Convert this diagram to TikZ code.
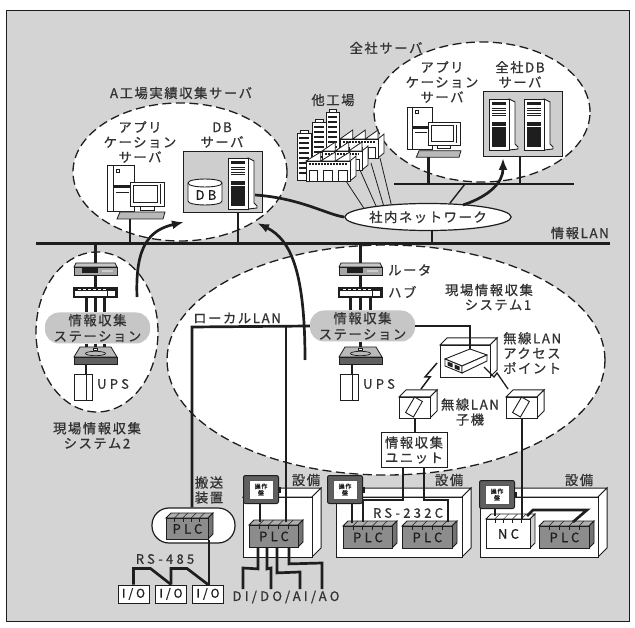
\documentclass[tikz,border=0pt]{standalone}
\usepackage{fontspec}
\setmainfont{Noto Sans CJK JP}[LetterSpace=12, FakeBold=0.7]
\newfontfamily\widefont{Noto Sans CJK JP}[LetterSpace=25, FakeBold=0.7]
\usetikzlibrary{arrows.meta,calc,shapes.geometric}

\definecolor{panelgray}{RGB}{212,212,212}
\definecolor{inkcol}{RGB}{30,30,30}
\definecolor{txtcol}{RGB}{50,50,50}
\definecolor{pillgray}{RGB}{198,198,198}
\definecolor{plcgray}{RGB}{140,140,140}
\definecolor{boxgray}{RGB}{206,206,206}
\definecolor{panelframe}{RGB}{95,95,95}

\tikzset{
  lbl/.style={text=txtcol, inner sep=0pt, align=center, font=\fontsize{13.3}{15}\selectfont},
  latinlbl/.style={text=txtcol, inner sep=0pt, align=center, font=\widefont\fontsize{13}{15}\selectfont},
  zone/.style={ellipse, draw=inkcol, fill=white, line width=1.3pt, dash pattern=on 9pt off 4.5pt, inner sep=0pt},
  wire/.style={draw=inkcol, line width=2.7pt},
  medwire/.style={draw=inkcol, line width=1.4pt},
  thinwire/.style={draw=inkcol, line width=0.8pt},
  lan/.style={draw=inkcol, line width=3pt},
  flow/.style={draw=inkcol, line width=2.7pt, -{Latex[length=12pt,width=9pt]}},
  pill/.style={fill=pillgray, rounded corners=14pt, minimum width=105, minimum height=31, inner sep=0pt, text=txtcol, align=center, font=\fontsize{13.3}{16}\selectfont},
  iobox/.style={draw=inkcol, line width=1pt, fill=white, minimum width=31, minimum height=18, inner sep=0pt, text=inkcol, font=\widefont\fontsize{12}{12}\selectfont},
  % desktop computer: tower, monitor, keyboard
  pics/pcset/.style={code={
    \draw[inkcol, line width=0.9pt, fill=white] (0,0) rectangle (27,46);
    \draw[inkcol, line width=0.6pt] (6,0) -- (6,46);
    \fill[inkcol] (6,20) rectangle (23,23.5);
    \draw[inkcol, line width=0.5pt] (9,4) rectangle (12,7);
    \draw[inkcol, line width=0.5pt] (9,27) -- (22,27);
    \draw[inkcol, line width=0.9pt, fill=white] (23,17) rectangle (57,41);
    \draw[inkcol, line width=0.7pt] (26,20) rectangle (50,37);
    \draw[inkcol, line width=0.6pt] (53,19) -- (53,39);
    \draw[inkcol, line width=0.8pt, fill=white] (33,41) rectangle (47,45);
    \draw[inkcol, line width=0.8pt, fill=gray!55] (13,47) -- (58,47) -- (56,54) -- (10,54) -- cycle;
    \coordinate (-base) at (23,54);
  }},
  % rack server tower
  pics/servtower/.style={code={
    \draw[inkcol, line width=0.9pt, fill=white] (20,0) -- (26,3) -- (26,45) -- (29,48) -- (29,50) -- (20,51) -- cycle;
    \draw[inkcol, line width=0.9pt, fill=white] (0,0) rectangle (20,51);
    \fill[inkcol] (3,3) rectangle (17,6);
    \foreach \ly in {9,11.5,14,16.5} \draw[inkcol, line width=0.5pt] (3,\ly) -- (17,\ly);
    \fill[inkcol] (3,23) rectangle (17,48);
    \draw[white, line width=0.6pt] (3,27) -- (17,27);
    \coordinate (-base) at (10,51);
    \coordinate (-east) at (27,37);
  }},
  pics/router/.style={code={
    \draw[inkcol, line width=0.7pt, fill=gray!45] (2,0) -- (41,0) -- (43,4) -- (0,4) -- cycle;
    \draw[inkcol, line width=0.7pt, fill=gray!70] (0,4) rectangle (43,12);
    \fill[inkcol] (8,5.5) rectangle (24,10.5);
    \fill[gray!40] (28,7) rectangle (39,9);
    \coordinate (-n) at (21.5,0);
    \coordinate (-s) at (21.5,12);
  }},
  pics/hub/.style={code={
    \draw[inkcol, line width=1.2pt, fill=white] (0,0) rectangle (43,9);
    \fill[inkcol] (0,0) rectangle (43,3.2);
    \foreach \i in {4,9,...,29} \fill[white] (\i,1) rectangle (\i+3,2.2);
    \draw[inkcol, line width=0.8pt, fill=white] (33,2.5) rectangle (41,8);
    \coordinate (-n) at (21.5,0);
    \coordinate (-s) at (21.5,9);
  }},
  pics/discbase/.style={code={
    \draw[inkcol, line width=0.8pt, fill=gray!55] (6,0) -- (37,0) -- (43,10) -- (0,10) -- cycle;
    \draw[inkcol, line width=0.8pt, fill=gray!75!black] (0,10) rectangle (43,17);
    \draw[inkcol, line width=0.7pt] (21.5,6.5) ellipse [x radius=10, y radius=2.2];
    \draw[inkcol, line width=0.6pt, fill=white] (19.5,1) rectangle (23.5,3.5);
    \coordinate (-n) at (21.5,0);
    \coordinate (-s) at (21.5,17);
  }},
  pics/upsbox/.style={code={
    \draw[inkcol, line width=0.9pt, fill=white] (0,0) rectangle (18,26);
    \draw[inkcol, line width=0.9pt] (12,0) -- (12,26);
    \coordinate (-n) at (12,0);
  }},
}

% 3D box: name, x1, y1, x2, y2 (front face), depth
\newcommand{\cubebox}[6]{%
  \draw[inkcol, line width=1pt, fill=white] (#2,#3) -- ++(#6,-#6) -- (#4+#6,#3-#6) -- (#4,#3) -- cycle;
  \draw[inkcol, line width=1pt, fill=white] (#4,#3) -- (#4+#6,#3-#6) -- (#4+#6,#5-#6) -- (#4,#5) -- cycle;
  \node[draw=inkcol, line width=1pt, fill=white, inner sep=0pt, minimum width=#4-#2, minimum height=#5-#3, anchor=north west] (#1) at (#2,#3) {};
}
% controller module: name, x, y, width, height, label, colour
\newcommand{\plcbox}[7]{%
  \draw[inkcol, line width=0.9pt, fill=#7!70!white] (#2,#3) -- ++(5,-5) -- ++(#4,0) -- ++(-5,5) -- cycle;
  \draw[inkcol, line width=0.9pt, fill=#7!82!black] (#2+#4,#3) -- ++(5,-5) -- ++(0,#5) -- ++(-5,5) -- cycle;
  \node[draw=inkcol, line width=0.9pt, fill=#7, inner sep=0pt, minimum width=#4, minimum height=#5, anchor=north west, text=inkcol, font=\widefont\fontsize{13}{13}\selectfont] (#1) at (#2,#3) {#6};
  \foreach \k in {1,...,4}{
    \draw[inkcol, line width=0.5pt] ($(#1.north west)+(\k*#4/5,0)$) -- ++(5,-5);
    \draw[inkcol, line width=0.5pt] ($(#1.north west)+(\k*#4/5,0)$) -- ++(0,4);
  }%
}
% operator panel: name, x, y
\newcommand{\oppanel}[3]{%
  \node[draw=inkcol, line width=1pt, fill=panelframe, rounded corners=2pt, minimum width=35, minimum height=28, inner sep=0pt, anchor=north west] (#1) at (#2,#3) {};
  \fill[inkcol] ($(#1.east)+(0,-3)$) rectangle ($(#1.east)+(2,3)$);
  \node[draw=gray!70!black, line width=0.8pt, fill=white, minimum width=24, minimum height=19, inner sep=0pt, align=center, text=inkcol, font=\fontsize{6}{6.5}\selectfont] (#1-in) at (#1.center) {操作\\盤};
}

\begin{document}
\begin{tikzpicture}[x=1pt,y=-1pt]
\useasboundingbox (0,0) rectangle (635,628);
\fill[white] (0,0) rectangle (635,628);
\draw[inkcol, line width=0.8pt, fill=panelgray] (6,10) rectangle (629,621);

%% dashed zones
\node[zone, minimum width=214, minimum height=138] (zoneA) at (180,172) {};
\node[zone, minimum width=216, minimum height=140] (zoneHQ) at (482,112) {};
\node[zone, minimum width=122, minimum height=160] (zoneS2) at (97,332) {};
\node[zone, minimum width=438, minimum height=230] (zoneS1) at (386,360) {};

%% zone titles
\node[lbl] (tA) at (181,93) {A工場実績収集サーバ};
\node[lbl] (tHQ) at (386,48) {全社サーバ};
\node[lbl] (tS2) at (97,435.5) {現場情報収集\\システム2};
\node[lbl] (tS1a) at (489,290) {現場情報収集};
\node[lbl] (tS1b) at (498,305) {システム1};
\node[lbl] (tOther) at (333,100) {他工場};
\node[lbl, anchor=east] (tLAN) at (609,233) {情報LAN};

%% information LAN backbone
\coordinate (lanL) at (36,244);
\coordinate (lanR) at (610,244);
\draw[lan] (lanL) -- (lanR);

%% plant A servers
\pic (pcA) at (107,165) {pcset};
\node[draw=inkcol, line width=1pt, fill=boxgray, minimum width=79, minimum height=61, inner sep=0pt] (dbboxA) at (222.5,182.5) {};
\draw[inkcol, line width=0.9pt, fill=white] (188,183) -- (188,201) .. controls (188,206.3) and (222,206.3) .. (222,201) -- (222,183) .. controls (222,177.7) and (188,177.7) .. (188,183) -- cycle;
\draw[inkcol, line width=0.9pt] (188,183) .. controls (188,188.3) and (222,188.3) .. (222,183);
\node[text=inkcol, inner sep=0pt, font=\widefont\fontsize{13}{13}\selectfont] (dbA) at (206,195) {DB};
\pic (srvA) at (228,158) {servtower};
\node[lbl] (tAppA) at (140,142) {アプリ\\ケーション\\サーバ};
\node[lbl] (tDbA) at (222,135) {DB\\サーバ};
\draw[wire] (pcA-base) -- (pcA-base |- lanL);
\draw[wire] (srvA-base |- dbboxA.south) -- (srvA-base |- lanL);

%% head office servers
\pic[scale=0.93] (pcHQ) at (407,107) {pcset};
\node[draw=inkcol, line width=1pt, fill=boxgray, minimum width=79, minimum height=65, inner sep=0pt] (dbboxHQ) at (522.5,124.5) {};
\pic (srvHQa) at (489,99) {servtower};
\pic (srvHQb) at (524,99) {servtower};
\node[lbl] (tAppHQ) at (442,82) {アプリ\\ケーション\\サーバ};
\node[lbl] (tDbHQ) at (520,74.5) {全社DB\\サーバ};
\coordinate (barL) at (394,184);
\coordinate (barR) at (574,184);
\coordinate (hqDrop) at (520,157);
\draw[wire] (barL) -- (barR);
\draw[wire] (pcHQ-base) -- (pcHQ-base |- barL);
\draw[wire] (hqDrop) -- (hqDrop |- barL);

%% other plants
\foreach \bx/\by/\bw/\bb in {297/133/14/180, 312/122/14/172, 326/112/13/165}{
  \draw[inkcol, line width=0.8pt, fill=white] (\bx,\by) rectangle (\bx+\bw,\bb);
  \draw[inkcol, line width=0.8pt, fill=white] (\bx+3,\by) rectangle (\bx+\bw-3,\by-3);
  \begin{scope}
    \clip (\bx,\by+3) rectangle (\bx+\bw,\bb-3);
    \foreach \r in {0,...,12}
      \fill[inkcol] (\bx+2,\by+4+5*\r) rectangle (\bx+\bw-2,\by+5.8+5*\r);
  \end{scope}
}
\foreach \fx/\fr/\fw/\fb in {340/130/38/158, 322/142/40/170, 306/152/44/181}{
  \draw[inkcol, line width=0.8pt, fill=white] (\fx+\fw,\fr+9) -- ++(6,-5) -- (\fx+\fw+6,\fb-5) -- (\fx+\fw,\fb) -- cycle;
  \draw[inkcol, line width=0.8pt, fill=white] (\fx,\fr+9) rectangle (\fx+\fw,\fb);
  \foreach \t in {0,1,2}{
    \draw[inkcol, line width=0.8pt, fill=white] (\fx+\t*\fw/3,\fr+9) -- (\fx+\t*\fw/3+\fw/3,\fr) -- (\fx+\t*\fw/3+\fw/3,\fr+9) -- cycle;
    \draw[inkcol, line width=0.7pt] (\fx+\t*\fw/3+3,\fb) -- (\fx+\t*\fw/3+3,\fb-11) -- (\fx+\t*\fw/3+\fw/3-3,\fb-11) -- (\fx+\t*\fw/3+\fw/3-3,\fb);
  }
  \draw[inkcol, line width=1.2pt, dash pattern=on 2pt off 1pt] (\fx+3,\fr+12) -- (\fx+\fw-3,\fr+12);
}

%% company network
\node[ellipse, draw=inkcol, line width=1.2pt, fill=white, minimum width=150, minimum height=27, lbl] (net) at (428,217) {社内ネットワーク};
\coordinate (netS) at (432,230.5);
\coordinate (netNE) at (463,205);
\coordinate (barTap) at (465,184);
\draw[wire] (netS) -- (netS |- lanL);
\draw[medwire] (net.32) -- (barTap);
\coordinate (fA) at (346,181);
\coordinate (fB) at (360,170);
\coordinate (fC) at (371,163);
\coordinate (fD) at (380,158);
\draw[thinwire] (fA) -- (net.172);
\draw[thinwire] (fB) -- (net.168);
\draw[thinwire] (fC) -- (net.165);
\draw[thinwire] (fD) -- (net.161);
\draw[wire] (srvA-east) .. controls (300,198) and (328,215) .. (net.west);

%% field system 2
\pic (rt2) at (74,263) {router};
\pic (hub2) at (74,288) {hub};
\node[pill] (st2) at (97.5,328) {情報収集\\ステーション};
\pic (dk2) at (74,347) {discbase};
\pic (ups2) at (74,374) {upsbox};
\node[latinlbl, anchor=west] (tUps2) at (97,384) {UPS};
\draw[wire] (rt2-n |- lanL) -- (rt2-n);
\draw[wire] (rt2-s) -- (hub2-n);
\foreach \dx in {-9,0,9}{
  \draw[wire] ($(hub2-s)+(\dx,0)$) -- ($(hub2-s |- st2.north)+(\dx,0)$);
  \draw[wire] ($(dk2-n |- st2.south)+(\dx,0)$) -- ($(dk2-n)+(\dx,0)$);
}
\draw[wire] (dk2-s -| ups2-n) -- (ups2-n);

%% field system 1
\pic (rt1) at (339,263) {router};
\pic (hub1) at (339,288) {hub};
\node[pill] (st1) at (362.5,326) {情報収集\\ステーション};
\pic (dk1) at (339,347) {discbase};
\pic (ups1) at (340,374) {upsbox};
\node[latinlbl, anchor=west] (tUps1) at (363,384) {UPS};
\node[lbl, anchor=west] (tRt) at (388,270) {ルータ};
\node[lbl, anchor=west] (tHub) at (388,292) {ハブ};
\draw[wire] (rt1-n |- lanL) -- (rt1-n);
\draw[wire] (rt1-s) -- (hub1-n);
\foreach \dx in {-10,0,10}{
  \draw[wire] ($(hub1-s)+(\dx,0)$) -- ($(hub1-s |- st1.north)+(\dx,0)$);
}
\draw[wire] (dk1-n |- st1.south) -- (dk1-n);
\draw[wire] (dk1-s -| ups1-n) -- (ups1-n);

%% wireless access point and clients
\cubebox{ap}{440}{345}{490}{377}{7}
\coordinate (apIn) at (470,352);
\draw[wire] (st1.east) -- (st1.east -| apIn) -- (apIn);
\draw[inkcol, line width=0.9pt, fill=white] (445,359) -- (470,349) -- (487,355) -- (462,366) -- cycle;
\draw[inkcol, line width=0.9pt, fill=white] (445,359) -- (462,366) -- (462,373) -- (445,366) -- cycle;
\draw[inkcol, line width=0.9pt, fill=white] (462,366) -- (487,355) -- (487,361) -- (462,373) -- cycle;
\fill[inkcol] (447.5,361.5) -- (452.5,363.5) -- (452.5,367.5) -- (447.5,365.5) -- cycle;
\fill[inkcol] (454.5,364.5) -- (459.5,366.5) -- (459.5,370.5) -- (454.5,368.5) -- cycle;
\node[lbl, align=left, anchor=west] (tAp) at (503,353) {無線LAN\\アクセス\\ポイント};

\cubebox{cl1}{399}{397}{430}{418}{7}
\cubebox{cl2}{506}{397}{537}{418}{7}
\draw[inkcol, line width=0.9pt, fill=white] (414.6,397) -- (422.4,401.5) -- (413.4,417) -- (405.6,412.5) -- cycle;
\draw[inkcol, line width=0.9pt, fill=white] (521.6,397) -- (529.4,401.5) -- (520.4,417) -- (512.6,412.5) -- cycle;
\coordinate (boltL1) at (421,389);
\coordinate (boltL2) at (437,363);
\coordinate (boltR1) at (484,367);
\coordinate (boltR2) at (508,389);
\draw[inkcol, line width=1.5pt, line join=miter] (boltL1) -- (430,377) -- (425,377) -- (boltL2);
\draw[inkcol, line width=1.3pt, line join=miter] (boltR1) -- (494,377) -- (497,373) -- (boltR2);
\node[lbl] (tCl) at (470,412) {無線LAN\\子機};

\node[draw=inkcol, line width=1pt, fill=white, minimum width=66, minimum height=34, lbl] (unit) at (414,450) {情報収集\\ユニット};
\draw[wire] (cl1.south) -- (cl1.south |- unit.north);

%% carrier equipment
\node[draw=inkcol, line width=1.2pt, fill=white, rounded corners=17pt, minimum width=83, minimum height=35, inner sep=0pt] (carrier) at (193.5,525.5) {};
\plcbox{plcCar}{166}{518}{42}{21}{PLC}{plcgray}
\node[lbl] (tCar) at (209,490) {搬送\\装置};
\node[iobox] (io1) at (133.5,594) {I/O};
\node[iobox] (io2) at (171,594) {I/O};
\node[iobox] (io3) at (208,594) {I/O};
\draw[wire] (plcCar.south east) -- (plcCar.south east |- io3.north);
\draw[wire] (io1.north) -- ++(0,-16) -- ++(17,0) -- (io2.north);
\draw[wire] (io2.north) -- ++(0,-16) -- ++(16,0) -- (io3.north);
\node[latinlbl] (tRs485) at (165,559) {RS-485};

%% equipment cabinets
\cubebox{eqA}{243}{497}{312}{557}{9}
\cubebox{eqB}{336}{497}{462}{557}{9}
\cubebox{eqC}{480}{497}{598}{557}{9}
\node[lbl] (tEqA) at (306,480) {設備};
\node[lbl] (tEqB) at (449,480) {設備};
\node[lbl] (tEqC) at (579,480) {設備};
\oppanel{opA}{243}{475}
\oppanel{opB}{327}{475}
\oppanel{opC}{479}{480}

\plcbox{plcA}{249}{525}{49}{22}{PLC}{plcgray}
\plcbox{plcB1}{343}{526}{49}{22}{PLC}{plcgray}
\plcbox{plcB2}{402}{526}{50}{22}{PLC}{plcgray}
\plcbox{nc}{486}{519}{44}{29}{NC}{white}
\plcbox{plcC}{539}{526}{50}{22}{PLC}{plcgray}

\draw[medwire] (opA.south -| 260,0) -- (260,522);
\draw[medwire] (opB.south -| 352,0) -- (352,523);
\draw[medwire] (opC.south -| 495,0) -- (495,516);

% local LAN
\coordinate (llan) at (192,327);
\coordinate (plcAin) at (286,522);
\draw[wire] (st1.west) -- (llan) -- (llan |- carrier.north);
\draw[wire] (plcAin |- st1.west) -- (plcAin);
\node[lbl, anchor=west] (tLLan) at (193,318) {ローカルLAN};

% field I/O of cabinet A
\node[latinlbl] (dido) at (286,597) {DI/DO/AI/AO};
\draw[wire] ($(plcA.south west)+(9,0)$) -- ++(0,21) -- (243,568) -- (243,589);
\draw[wire] ($(plcA.south west)+(18,0)$) -- ++(0,21) -- (271,568) -- (271,589);
\draw[wire] ($(plcA.south west)+(28,0)$) -- ++(0,25) -- (300,572) -- (300,589);
\draw[wire] ($(plcA.south west)+(40,0)$) -- ++(0,16) -- (322,563) -- (322,589);

% RS-232C links of cabinet B
\draw[wire] ($(unit.south)+(-11,0)$) |- (363,500) -- (363,522);
\draw[wire] ($(unit.south)+(10,0)$) |- (448,500) -- (448,522);
\node[latinlbl] (tRs232) at (408,513) {RS-232C};

% cabinet C
\draw[wire] (cl2.south) -- (cl2.south |- nc.north);
\draw[wire, line join=miter] (527,516) -- (533,510) -- (587,510) -- (573,522);

%% data flow arrows
\coordinate (upA0) at (137,297);
\coordinate (upA1) at (184,222);
\coordinate (upB0) at (305,360);
\coordinate (upB1) at (257,223);
\coordinate (hqIn) at (503,158);
\draw[flow] (upA0) .. controls (135,245) and (150,230) .. (upA1);
\draw[flow] (upB0) .. controls (305,275) and (292,240) .. (upB1);
\draw[flow] (netNE) .. controls (490,196) and (503,182) .. (hqIn);
\end{tikzpicture}
\end{document}
